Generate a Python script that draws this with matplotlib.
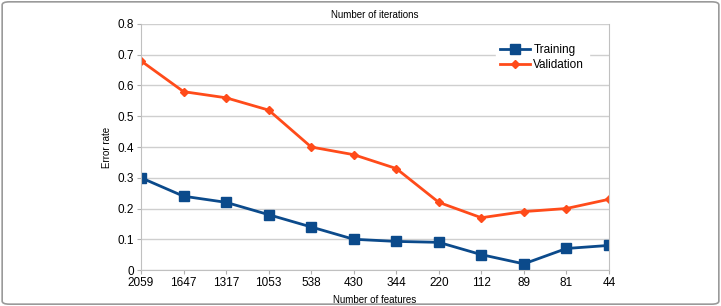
import matplotlib.pyplot as plt
from matplotlib.patches import FancyBboxPatch

plt.rcParams['font.family'] = ['Liberation Sans', 'DejaVu Sans']

features = ['2059', '1647', '1317', '1053', '538', '430', '344', '220', '112', '89', '81', '44']
training = [0.30, 0.24, 0.22, 0.18, 0.14, 0.10, 0.093, 0.09, 0.05, 0.02, 0.07, 0.08]
validation = [0.68, 0.58, 0.56, 0.52, 0.40, 0.375, 0.33, 0.22, 0.17, 0.19, 0.20, 0.23]

fig = plt.figure(figsize=(7.21, 3.06), dpi=100)
border = FancyBboxPatch((0.003, 0.006), 0.994, 0.988, boxstyle='round,pad=0,rounding_size=0.01',
                        transform=fig.transFigure, fill=False, edgecolor='#9a9a9a', linewidth=1.2)
fig.patches.append(border)

ax = fig.add_axes([0.1956, 0.1176, 0.649, 0.804])
x = range(len(features))
ax.plot(x, training, color='#0b4a8b', marker='s', markersize=7, linewidth=2, label='Training')
ax.plot(x, validation, color='#ff4b1a', marker='D', markersize=4, linewidth=2, label='Validation')

ax.set_xlim(0, len(features) - 1)
ax.set_ylim(0, 0.8)
ax.set_yticks([0, 0.1, 0.2, 0.3, 0.4, 0.5, 0.6, 0.7, 0.8])
ax.set_yticklabels(['0', '0.1', '0.2', '0.3', '0.4', '0.5', '0.6', '0.7', '0.8'])
ax.set_xticks(list(x))
ax.set_xticklabels(features)
ax.tick_params(labelsize=8.5, length=3, color='#b0b0b0', pad=2)
ax.yaxis.grid(True, color='#cfcfcf', linewidth=1)
ax.set_axisbelow(True)
for s in ['left', 'bottom', 'right']:
    ax.spines[s].set_color('#c0c0c0')
ax.spines['top'].set_visible(False)

ax.set_title('Number of iterations', fontsize=7, pad=4)
ax.set_ylabel('Error rate', fontsize=7, labelpad=4)
ax.set_xlabel('Number of features', fontsize=7, labelpad=4)

leg = ax.legend(loc='upper right', bbox_to_anchor=(0.97, 0.96), fontsize=8.5, frameon=True,
                fancybox=False, edgecolor='white', framealpha=1, handlelength=2.5,
                handletextpad=0.3, borderpad=0.4, labelspacing=0.2)

fig.savefig('out.png', dpi=100)
